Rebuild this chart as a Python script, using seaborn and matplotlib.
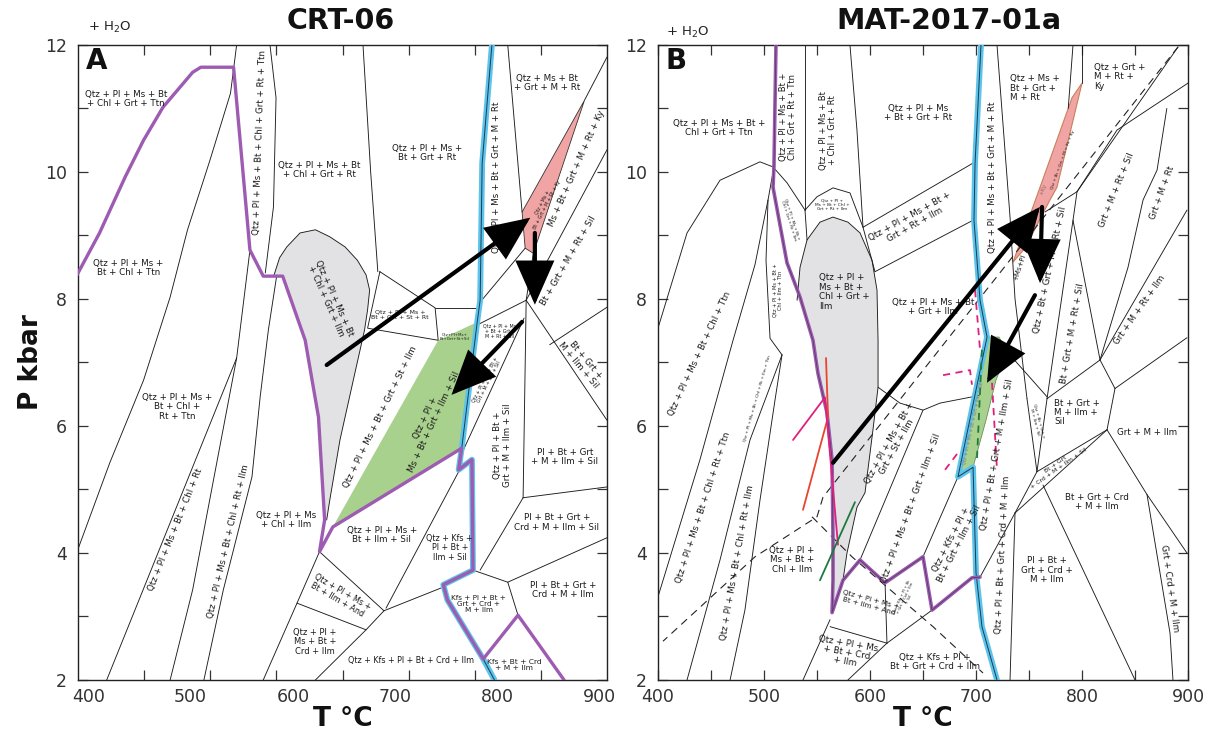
import matplotlib
matplotlib.use("Agg")
import matplotlib.pyplot as plt
import seaborn as sns
import pandas as pd
from matplotlib.patches import Polygon

sns.set_theme(style="white")
plt.rcParams['font.family'] = ['DejaVu Sans']

# ---------------- colours ----------------
PURPLE = '#9d5bb1'
CYAN = '#5cc3ea'
GREY = '#e2e2e4'
GREEN = '#a9d18e'
PINK = '#f1a4a4'

# ======================= PANEL A (CRT-06) =======================
A_XLIM = (390, 907)
A_PURPLE = [(389, 8.38), (411, 9.04), (436, 9.92), (454, 10.5), (473, 11.02), (502, 11.57),
            (510, 11.65), (542, 11.65), (558, 8.77), (571, 8.36), (590, 8.36), (612, 7.35),
            (625, 6.14), (631, 4.52), (626, 4.02), (639, 4.41), (765, 5.65), (762, 5.31),
            (775, 5.47), (776, 3.73), (747, 3.50), (751, 3.26), (786, 2.33), (820, 3.02), (865, 2.0)]
A_CYAN = [(794.5, 12.0), (785, 10.14), (783, 7.98), (780, 7.62), (765, 5.65), (762, 5.31),
          (775, 5.47), (776, 3.73), (747, 3.50), (751, 3.26), (786, 2.33), (797, 2.0)]
A_GREY = [(581, 8.35), (587, 8.65), (594, 8.82), (607, 9.04), (622, 9.09), (636, 8.98),
          (651, 8.82), (663, 8.61), (671.5, 8.38), (675, 8.14), (673, 7.83), (670, 7.51),
          (659, 6.72), (646, 5.78), (636, 4.83), (633, 4.52), (631, 4.52), (625, 6.14),
          (612, 7.35), (590, 8.36)]
A_GREEN = [(639, 4.41), (742, 7.35), (778, 7.62), (765, 5.65)]
A_PINK = [(824, 9.37), (885, 11.13), (835, 8.72), (827, 8.80)]

A_LINES_WEST = [
    [(389, 4.02), (421, 5.42), (454, 6.72), (480, 8.03), (497, 9.09), (519, 10.19), (539, 11.24), (545, 12.0)],
    [(558, 8.77), (545, 7.07)],
    [(545, 7.07), (418, 2.0)],
    [(545, 7.07), (502, 3.42), (480, 2.0)],
    [(584, 8.35), (576, 7.51), (568, 6.46), (560, 5.20), (532, 3.42), (513, 2.0)],
    [(577.6, 12.0), (583.5, 11.17), (581, 9.45), (573, 8.41)],
]
A_LINES_MID = [
    [(668.5, 12.0), (676, 10.0), (683, 8.43)],
    [(685, 8.43), (739, 7.86), (742, 7.35), (673, 7.54), (685, 8.43)],
    [(739, 7.86), (781, 7.86)],
    [(810, 12.0), (824, 9.37)],
    [(907, 11.81), (885, 11.13)],
    [(827, 8.80), (783, 7.95)],
    [(835, 8.72), (828, 7.98)],
    [(907, 10.35), (828, 7.98)],
    [(828, 7.98), (780, 7.59)],
    [(826, 7.7), (766, 5.6)],
    [(828, 7.98), (825, 4.87)],
    [(828, 7.98), (907, 6.09)],
    [(851, 7.28), (907, 7.87)],
]
A_LINES_SOUTH = [
    [(825, 4.87), (783, 3.73)],
    [(825, 4.87), (907, 5.04)],
    [(810, 3.54), (907, 4.24)],
    [(776, 3.73), (810, 3.54), (820, 3.02)],
    [(762, 5.28), (691, 3.13)],
    [(689, 3.09), (745, 3.45)],
    [(626, 4.02), (689, 3.09)],
    [(626, 4.02), (604, 3.21), (571, 2.0)],
    [(604, 3.21), (671.5, 2.79), (689, 3.09)],
    [(671.5, 2.79), (622, 2.0)],
]
A_ARROWS = [((633, 6.96), (832, 9.28)), ((836.5, 9.04), (836.5, 7.91)), ((824, 7.64), (755, 6.49))]

A_LABELS = [
    ("Qtz + Pl + Ms + Bt\n+ Chl + Grt + Ttn", 437, 11.15, 0, 6.3),
    ("Qtz + Pl + Ms +\nBt + Chl + Ttn", 439, 8.49, 0, 6.3),
    ("Qtz + Pl + Ms +\nBt + Chl +\nRt + Ttn", 487, 6.3, 0, 6.3),
    ("Qtz + Pl + Ms + Bt + Chl + Rt", 485, 4.36, 68, 6.3),
    ("Qtz + Pl + Ms + Bt + Chl + Rt + Ilm", 536.6, 4.18, 77, 6.3),
    ("Qtz + Pl + Ms + Bt + Chl + Grt + Rt + Ttn", 568, 10.46, 88, 6.3),
    ("Qtz + Pl + Ms + Bt\n+ Chl + Grt + Rt", 626, 10.03, 0, 6.3),
    ("Qtz + Pl + Ms +\nBt + Grt + Rt", 731, 10.3, 0, 6.3),
    ("Qtz + Ms + Bt\n+ Grt + M + Rt", 848, 11.4, 0, 6.3),
    ("Qtz + Pl + Ms + Bt + Grt + M + Rt", 799.4, 9.92, 90, 6.3),
    ("Ms + Bt + Grt + M + Rt + Ky", 877.5, 10.06, 66, 6.3),
    ("Bt + Grt + M + Rt + Sil", 868.7, 8.6, 60, 6.3),
    ("Qtz + Ms +\nBt + Grt + M + Rt + Ky", 846.3, 9.5, 63, 3.3),
    ("Qtz + Pl + Ms + Bt\n+ Chl + Grt + Ilm", 636, 7.99, -66, 6.3),
    ("Qtz + Pl + Ms +\nBt + Grt + St + Rt", 704.6, 7.75, 0, 4.5),
    ("Qtz+Pl+Ms+\nBt+Grt+St+Sil", 758.3, 7.41, 0, 2.9),
    ("Qtz + Pl + Ms\n+ Bt + Grt +\nM + Rt + Sil", 802.3, 7.49, 0, 3.4),
    ("Qtz + Pl + Ms + Bt + Grt + St + Ilm", 685, 6.14, 64, 6.3),
    ("Qtz + Pl +\nMs + Bt + Grt + Ilm + Sil", 734, 6.09, 65, 6.3),
    ("Qtz + Pl + Ms + Bt +\nGrt + M + Ilm + Sil", 789.6, 6.72, 63, 3.4),
    ("Qtz + Pl + Bt +\nGrt + M + Ilm + Sil", 805, 5.7, 90, 6.3),
    ("Bt + Grt +\nM + Ilm + Sil", 882.4, 7.0, -50, 6.3),
    ("Pl + Bt + Grt\n+ M + Ilm + Sil", 865.8, 5.51, 0, 6.3),
    ("Pl + Bt + Grt +\nCrd + M + Ilm + Sil", 858, 4.48, 0, 6.3),
    ("Pl + Bt + Grt +\nCrd + M + Ilm", 863.8, 3.42, 0, 6.3),
    ("Qtz + Pl + Ms +\nBt + Ilm + Sil", 687, 4.28, 0, 6.3),
    ("Qtz + Kfs +\nPl + Bt +\nIlm + Sil", 753.3, 4.08, 0, 5.8),
    ("Qtz + Pl + Ms\n+ Chl + Ilm", 593.2, 4.52, 0, 6.3),
    ("Qtz + Pl + Ms +\nBt + Ilm + And", 646, 3.32, -30, 5.8),
    ("Qtz + Pl +\nMs + Bt +\nCrd + Ilm", 621.5, 2.6, 0, 6.0),
    ("Qtz + Kfs + Pl + Bt + Crd + Ilm", 715.5, 2.31, 0, 5.8),
    ("Kfs + Pl + Bt +\nGrt + Crd +\nM + Ilm", 781.8, 3.2, 0, 5.2),
    ("Kfs + Bt + Crd\n+ M + Ilm", 816, 2.24, 0, 5.4),
]

# ======================= PANEL B (MAT-2017-01a) =======================
B_XLIM = (400, 900)
B_PURPLE = [(511.3, 12.0), (509.4, 10.08), (508.5, 9.76), (521.7, 8.57), (534, 8.03), (546.2, 7.35),
            (550.9, 6.83), (559.4, 6.21), (564.2, 5.47), (565.1, 4.21), (565.1, 3.57), (564.2, 3.06),
            (574.5, 3.57), (590.6, 3.89), (614.2, 3.53), (650, 3.94), (658.5, 3.10), (696.2, 3.61),
            (703.8, 3.62)]
B_CYAN = [(704.7, 12.0), (699.1, 10.14), (698.1, 9.24), (703.8, 7.98), (710.4, 7.40), (683, 5.20),
          (697.2, 5.35), (700, 3.69), (705.6, 2.84), (719.8, 2.0)]
B_GREY = [(531.2, 7.98), (534, 8.50), (540.6, 8.93), (552.8, 9.21), (565.1, 9.29), (579.2, 9.21),
          (590.6, 9.04), (601.9, 8.61), (606.6, 8.14), (607.6, 7.35), (607.6, 6.61), (602.8, 5.94),
          (595.3, 4.95), (587.7, 4.72), (578.3, 4.0), (574.5, 3.57), (564.2, 3.06), (565.1, 3.57),
          (565.1, 4.21), (564.2, 5.47), (559.4, 6.21), (550.9, 6.83), (546.2, 7.35), (534, 8.03)]
B_GREEN = [(710.4, 7.40), (721.7, 7.40), (729.3, 7.17), (718.8, 6.72), (709.4, 6.09), (697.2, 5.35), (683, 5.20)]
B_PINK = [(800, 11.40), (790.6, 11.17), (760.4, 9.76), (734.9, 8.58), (746.2, 8.80), (769.8, 9.56), (776.4, 9.76)]

B_LINES_WEST = [
    [(400, 7.54), (427.4, 9.04), (458.5, 9.87), (496.2, 10.16), (508.5, 10.08), (521.7, 9.83), (538.7, 9.40)],
    [(538.7, 9.40), (550, 9.61), (565.1, 9.75), (581.1, 9.67), (593.4, 9.13)],
    [(538.7, 9.40), (540.6, 8.93)],
    [(538.7, 12.0), (538.7, 9.40)],
    [(581.1, 12.0), (587.7, 10.66), (593.4, 9.13), (604.7, 8.43)],
    [(400, 3.31), (439.6, 5.47), (470.8, 7.35), (491.5, 8.54), (503.8, 9.56), (509.4, 10.08)],
    [(503.8, 9.56), (501.9, 8.61), (505.7, 7.38), (517, 7.12)],
    [(517, 7.12), (486.8, 5.78), (458.5, 3.89), (427.4, 2.0)],
    [(517, 7.12), (510.4, 6.41), (496.2, 4.83), (482, 3.10), (468, 2.0)],
]
B_LINES_MID = [
    [(593.4, 9.13), (697.2, 10.14)],
    [(604.7, 8.43), (697.2, 9.24)],
    [(607.6, 6.61), (628.3, 6.36), (650, 6.25), (666, 6.36), (702.9, 6.48)],
    [(650, 6.25), (590.6, 3.89)],
    [(683, 5.20), (650, 3.94)],
    [(536.8, 2.0), (562.3, 2.95)],
    [(562.3, 2.84), (616, 2.58)],
    [(579.2, 2.0), (616, 2.58)],
    [(616, 2.58), (658.5, 3.10)],
    [(614.2, 3.53), (616, 2.58)],
]
B_LINES_EAST = [
    [(719.8, 12.0), (732.1, 9.29), (736.8, 8.0), (748.1, 6.43)],
    [(748.1, 6.43), (757.5, 5.28)],
    [(729.3, 7.17), (767, 6.46)],
    [(800, 12.0), (800, 11.40)],
    [(791.5, 12.0), (787, 11.0)],
    [(890.6, 11.97), (795.3, 9.69), (765.1, 9.37)],
    [(900, 11.40), (833, 10.66), (795.3, 9.69)],
    [(795.3, 9.69), (791.5, 9.24), (817, 7.04)],
    [(791.5, 9.24), (767, 6.43)],
    [(767, 6.43), (817, 7.04)],
    [(817, 7.04), (843.4, 8.5), (857.6, 9.56), (870.8, 10.03), (880, 11.0)],
    [(899, 9.40), (817, 7.04)],
    [(831.1, 6.59), (899, 7.39)],
    [(817, 7.04), (831.1, 6.59)],
    [(831.1, 6.59), (823.6, 5.94)],
    [(823.6, 5.94), (757.5, 5.28)],
    [(823.6, 5.94), (736.8, 4.63)],
    [(823.6, 5.94), (861.3, 4.92), (899, 4.0)],
    [(861.3, 4.92), (883, 2.74), (885.8, 2.0)],
    [(757.5, 5.28), (767, 6.43)],
    [(736.8, 4.63), (757.5, 5.28)],
    [(736.8, 4.63), (732.1, 2.0)],
    [(736.8, 4.63), (703.8, 3.62)],
    [(763.2, 5.07), (850, 2.0)],
]
B_DASH_BLACK = [
    [(890.6, 11.97), (555.7, 4.88), (550, 4.57), (491.5, 3.94), (404.7, 2.61)],
    [(545.3, 4.57), (583, 3.94), (659.4, 2.84), (706.6, 2.11)],
]
B_DASH_MAGENTA = [
    [(699.1, 8.14), (703.8, 7.2)],
    [(668.9, 6.8), (694.3, 6.88), (696.2, 6.65)],
    [(715.1, 6.68), (719.8, 5.31)],
    [(670.8, 5.31), (684.9, 5.62)],
]
B_DASH_GREEN = [(705.6, 7.2), (700.9, 5.47)]
B_RED = [(558.5, 7.07), (560.4, 6.14), (536.8, 4.68)]
B_MAGENTA = [(527.4, 5.78), (557.5, 6.45), (569.8, 4.13)]
B_DKGREEN = [(585.8, 4.80), (552.8, 3.57)]
B_ARROWS = [((565.1, 5.42), (760.4, 9.45)), ((762.3, 9.45), (760.4, 8.25)), ((755.6, 8.06), (710.4, 6.68))]

B_LABELS = [
    ("Qtz + Pl + Ms + Bt +\nChl + Grt + Ttn", 457.6, 10.69, 0, 6.3),
    ("Qtz + Pl + Ms + Bt +\nChl + Grt + Rt + Ttn", 522.6, 10.87, 90, 6.0),
    ("Qtz + Pl + Ms + Bt\n+ Chl + Grt + Rt", 560.4, 10.66, 90, 6.0),
    ("Qtz + Pl + Ms\n+ Bt + Grt + Rt", 645.3, 10.93, 0, 6.3),
    ("Qtz + Pl + Ms + Bt + Grt + M + Rt", 716, 9.92, 90, 6.3),
    ("Qtz + Pl + Ms + Bt +\nChl + Grt + Rt + Ilm", 524.5, 9.24, -72, 3.0),
    ("Qtz + Pl +\nMs + Bt + Chl +\nGrt + Rt + Ilm", 564.2, 9.48, 0, 3.1),
    ("Qtz + Pl + Ms + Bt +\nGrt + Rt + Ilm", 640, 9.24, 29, 6.3),
    ("Qtz + Pl + Ms + Bt\n+ Grt + Ilm", 659.4, 7.87, 0, 6.3),
    ("Qtz + Pl + Ms + Bt + Chl + Ttn", 439.6, 7.13, 65, 6.3),
    ("Qtz + Pl + Ms + Bt + Chl + Rt + Ttn", 442.5, 4.71, 72, 6.3),
    ("Qtz + Pl + Ms + Bt + Chl + Rt + Ilm", 474.5, 3.84, 80, 6.3),
    ("Qtz + Pl + Ms + Bt + Chl + Rt + Ilm + Ttn", 493.4, 6.44, 74, 3.1),
    ("Qtz + Pl + Ms + Bt +\nChl + Ilm + Ttn", 513.2, 8.14, 90, 3.6),
    ("Qtz + Pl +\nMs + Bt +\nChl + Ilm", 526.4, 3.89, 0, 6.3),
    ("Qtz + Pl + Ms + Bt +\nGrt + St + Ilm", 621.7, 5.70, 61, 6.3),
    ("Qtz + Pl + Ms + Bt + Grt + Ilm + Sil", 638.7, 4.71, 70, 6.3),
    ("Qtz + Pl + Ms +\nBt + Ilm + And", 600, 3.21, -15, 5.2),
    ("Qtz + Kfs + Pl + Bt\n+ Grt + Crd + Ilm\n+ Sil", 633, 3.29, 65, 2.7),
    ("Qtz + Pl + Ms\n+ Bt + Crd\n+ Ilm", 578.3, 2.43, -10, 6.3),
    ("Qtz + Kfs + Pl +\nBt + Grt + Crd + Ilm", 661.3, 2.28, 0, 6.3),
    ("Qtz + Kfs + Pl +\nBt + Grt + Ilm + Sil", 680.2, 4.18, 63, 6.3),
    ("+Ms+Pl", 741.5, 8.5, 72, 5.0),
    ("Qtz + Pl + Bt + Grt + M + Ilm + Sil", 719.8, 5.55, 80, 6.3),
    ("Qtz + Bt + Grt + M + Rt + Sil", 770, 8.46, 78, 6.3),
    ("Qtz + Bt + Grt + M + Rt + Ky", 782.1, 10.19, 70, 3.1),
    ("Bt + Grt + M + Rt + Sil", 790.6, 7.46, 80, 6.3),
    ("Grt + M + Rt + Sil", 833, 9.72, 68, 6.3),
    ("Grt + M + Rt", 875.5, 9.68, 70, 6.3),
    ("Grt + M + Rt + Ilm", 854.7, 7.83, 55, 6.3),
    ("Qtz + Bt + Grt +\nM + Ilm + Sil", 757.5, 6.07, -75, 3.1),
    ("Grt + M + Ilm", 861.3, 5.89, 0, 6.3),
    ("Bt + Grt\n+ Crd + M + Ilm + Sil", 776.4, 5.36, 35, 4.4),
    ("Bt + Grt + Crd\n+ M + Ilm", 814.1, 4.8, 0, 6.3),
    ("Pl + Bt +\nGrt + Crd +\nM + Ilm", 767, 3.73, 0, 6.3),
    ("Qtz + Pl + Bt + Grt + Crd + M + Ilm", 725.5, 3.97, 87, 6.3),
    ("Grt + Crd + M + Ilm", 883, 3.45, -82, 6.3),
]
B_LABELS_LEFT = [
    ("Qtz + Pl +\nMs + Bt +\nChl + Grt +\nIlm", 575.5, 8.11, 0, 6.3),
    ("Qtz + Ms +\nBt + Grt +\nM + Rt", 755.6, 11.32, 0, 6.3),
    ("Qtz + Grt +\nM + Rt +\nKy", 835.8, 11.5, 0, 6.3),
    ("Bt + Grt +\nM + Ilm +\nSil", 795.3, 6.21, 0, 6.3),
]
B_LABELS_TINTED = [
    ("Qtz + Pl + Ms + Bt + Grt + Ilm + Sil", 697.2, 6.04, 78, 3.3, '#7d7d7d'),
    ("+Ky", 763.2, 9.72, 70, 4.4, '#a06a6a'),
]

# ======================= helpers =======================
def xy(pts):
    return [p[0] for p in pts], [p[1] for p in pts]


def sline(ax, pts, **kw):
    df = pd.DataFrame(pts, columns=['T', 'P'])
    sns.lineplot(data=df, x='T', y='P', sort=False, estimator=None, ax=ax, legend=False, **kw)


def thin(ax, groups, **kw):
    for g in groups:
        x, y = xy(g)
        ax.plot(x, y, color='#1c1c1c', lw=0.65, zorder=2, solid_joinstyle='miter', **kw)


def fill(ax, pts, color, z=1, edge='none', lw=0.6):
    ax.add_patch(Polygon(pts, closed=True, facecolor=color, edgecolor=edge, lw=lw, zorder=z))


def arrows(ax, arr):
    for tail, head in arr:
        ax.annotate('', xy=head, xytext=tail, zorder=6,
                    arrowprops=dict(arrowstyle='-|>,head_length=0.95,head_width=0.42',
                                    mutation_scale=28, lw=3.0, color='black',
                                    shrinkA=0, shrinkB=0, joinstyle='miter'))


def labels(ax, labs, align='center', color='#1a1a1a'):
    for item in labs:
        s, t, p, rot, fs = item[:5]
        c = item[5] if len(item) > 5 else color
        ax.text(t, p, s, rotation=rot, rotation_mode='anchor', ha='center', va='center',
                multialignment=align, fontsize=fs, linespacing=1.05, color=c, zorder=5)


def frame(ax, xlim, minor_x, major_len):
    ax.set_xlim(*xlim)
    ax.set_ylim(2, 12)
    ax.set_xticks([400, 500, 600, 700, 800, 900])
    ax.set_xticks(minor_x, minor=True)
    ax.set_yticks([2, 4, 6, 8, 10, 12])
    ax.set_yticks([3, 5, 7, 9, 11], minor=True)
    ax.tick_params(axis='x', which='major', length=major_len, direction='in', top=True, bottom=True,
                   labelsize=12.5, labelcolor='#333333', pad=6, width=0.9, color='#333333')
    ax.tick_params(axis='x', which='minor', length=7, direction='in', top=True, bottom=True,
                   width=0.9, color='#333333')
    ax.tick_params(axis='y', which='both', length=7, direction='in', left=True, right=True,
                   labelsize=12.5, labelcolor='#333333', pad=8, width=0.9, color='#333333')
    for sp in ax.spines.values():
        sp.set_color('#222222')
        sp.set_linewidth(1.0)
        sp.set_visible(True)
    ax.set_facecolor('white')


# ======================= figure =======================
fig = plt.figure(figsize=(12.14, 7.34), dpi=100)
fig.patch.set_facecolor('white')
axA = fig.add_axes([0.0643, 0.0736, 0.4357, 0.8651])
axB = fig.add_axes([0.542, 0.0736, 0.4366, 0.8651])

# ---------- panel A ----------
step = (A_XLIM[1] - A_XLIM[0]) / 8.0
fill(axA, A_GREY, GREY)
fill(axA, A_GREEN, GREEN)
fill(axA, A_PINK, PINK, edge='#333333', lw=0.6)
thin(axA, A_LINES_WEST)
thin(axA, A_LINES_MID)
thin(axA, A_LINES_SOUTH)
gx, gy = xy(A_GREY[:16])
axA.plot(gx, gy, color='#1c1c1c', lw=0.65, zorder=2)
sline(axA, A_CYAN, color=CYAN, lw=4.2, zorder=3)
sline(axA, A_CYAN, color='#1d3b55', lw=0.7, zorder=3.2)
sline(axA, A_PURPLE, color=PURPLE, lw=2.4, zorder=4)
arrows(axA, A_ARROWS)
labels(axA, A_LABELS)
frame(axA, A_XLIM, [A_XLIM[0] + k * step for k in range(1, 8)], 0)

axA.text(0.497, 1.038, 'CRT-06', transform=axA.transAxes, ha='center', va='center',
         fontsize=20.5, fontweight='bold', color='#111111')
axA.text(0.06, 1.027, '+ H$_2$O', transform=axA.transAxes, ha='center', va='center',
         fontsize=9.5, color='#222222')
axA.text(0.015, 0.975, 'A', transform=axA.transAxes, ha='left', va='center',
         fontsize=20, fontweight='bold', color='#111111')
axA.set_xlabel('T °C', fontsize=19, fontweight='bold', color='#111111', labelpad=0)
axA.set_ylabel('P kbar', fontsize=19, fontweight='bold', color='#111111', labelpad=1)

# ---------- panel B ----------
fill(axB, B_GREY, GREY)
fill(axB, B_GREEN, GREEN, edge='#6a8f55', lw=0.6)
fill(axB, B_PINK, PINK, edge='#c8805a', lw=0.8)
thin(axB, B_LINES_WEST)
thin(axB, B_LINES_MID)
thin(axB, B_LINES_EAST)
bx, by = xy(B_GREY[:16])
axB.plot(bx, by, color='#1c1c1c', lw=0.65, zorder=2)
for g in B_DASH_BLACK:
    x, y = xy(g)
    axB.plot(x, y, color='#222222', lw=0.8, ls=(0, (7, 5)), zorder=2)
for g in B_DASH_MAGENTA:
    x, y = xy(g)
    axB.plot(x, y, color='#e0207f', lw=1.3, ls=(0, (4, 3)), zorder=4.5)
x, y = xy(B_DASH_GREEN)
axB.plot(x, y, color='#1e7a3c', lw=1.3, ls=(0, (4, 3)), zorder=4.5)
sline(axB, B_CYAN, color=CYAN, lw=4.2, zorder=3)
sline(axB, B_CYAN, color='#1d3b55', lw=0.7, zorder=3.2)
sline(axB, B_PURPLE, color=PURPLE, lw=2.6, zorder=4)
sline(axB, B_PURPLE, color='#5a3a66', lw=0.6, zorder=4.1)
sline(axB, B_RED, color='#e8452c', lw=1.3, zorder=4.6)
sline(axB, B_MAGENTA, color='#e0207f', lw=1.3, zorder=4.6)
sline(axB, B_DKGREEN, color='#1e7a3c', lw=1.3, zorder=4.6)
arrows(axB, B_ARROWS)
labels(axB, B_LABELS)
labels(axB, B_LABELS_LEFT, align='left')
labels(axB, B_LABELS_TINTED)
frame(axB, B_XLIM, [450, 550, 650, 750, 850], 7)

axB.text(0.549, 1.038, 'MAT-2017-01a', transform=axB.transAxes, ha='center', va='center',
         fontsize=20.5, fontweight='bold', color='#111111')
axB.text(0.057, 1.02, '+ H$_2$O', transform=axB.transAxes, ha='center', va='center',
         fontsize=9.5, color='#222222')
axB.text(0.015, 0.975, 'B', transform=axB.transAxes, ha='left', va='center',
         fontsize=20, fontweight='bold', color='#111111')
axB.set_xlabel('T °C', fontsize=19, fontweight='bold', color='#111111', labelpad=0)
axB.set_ylabel('')

fig.savefig('out.png', dpi=100, facecolor='white')
